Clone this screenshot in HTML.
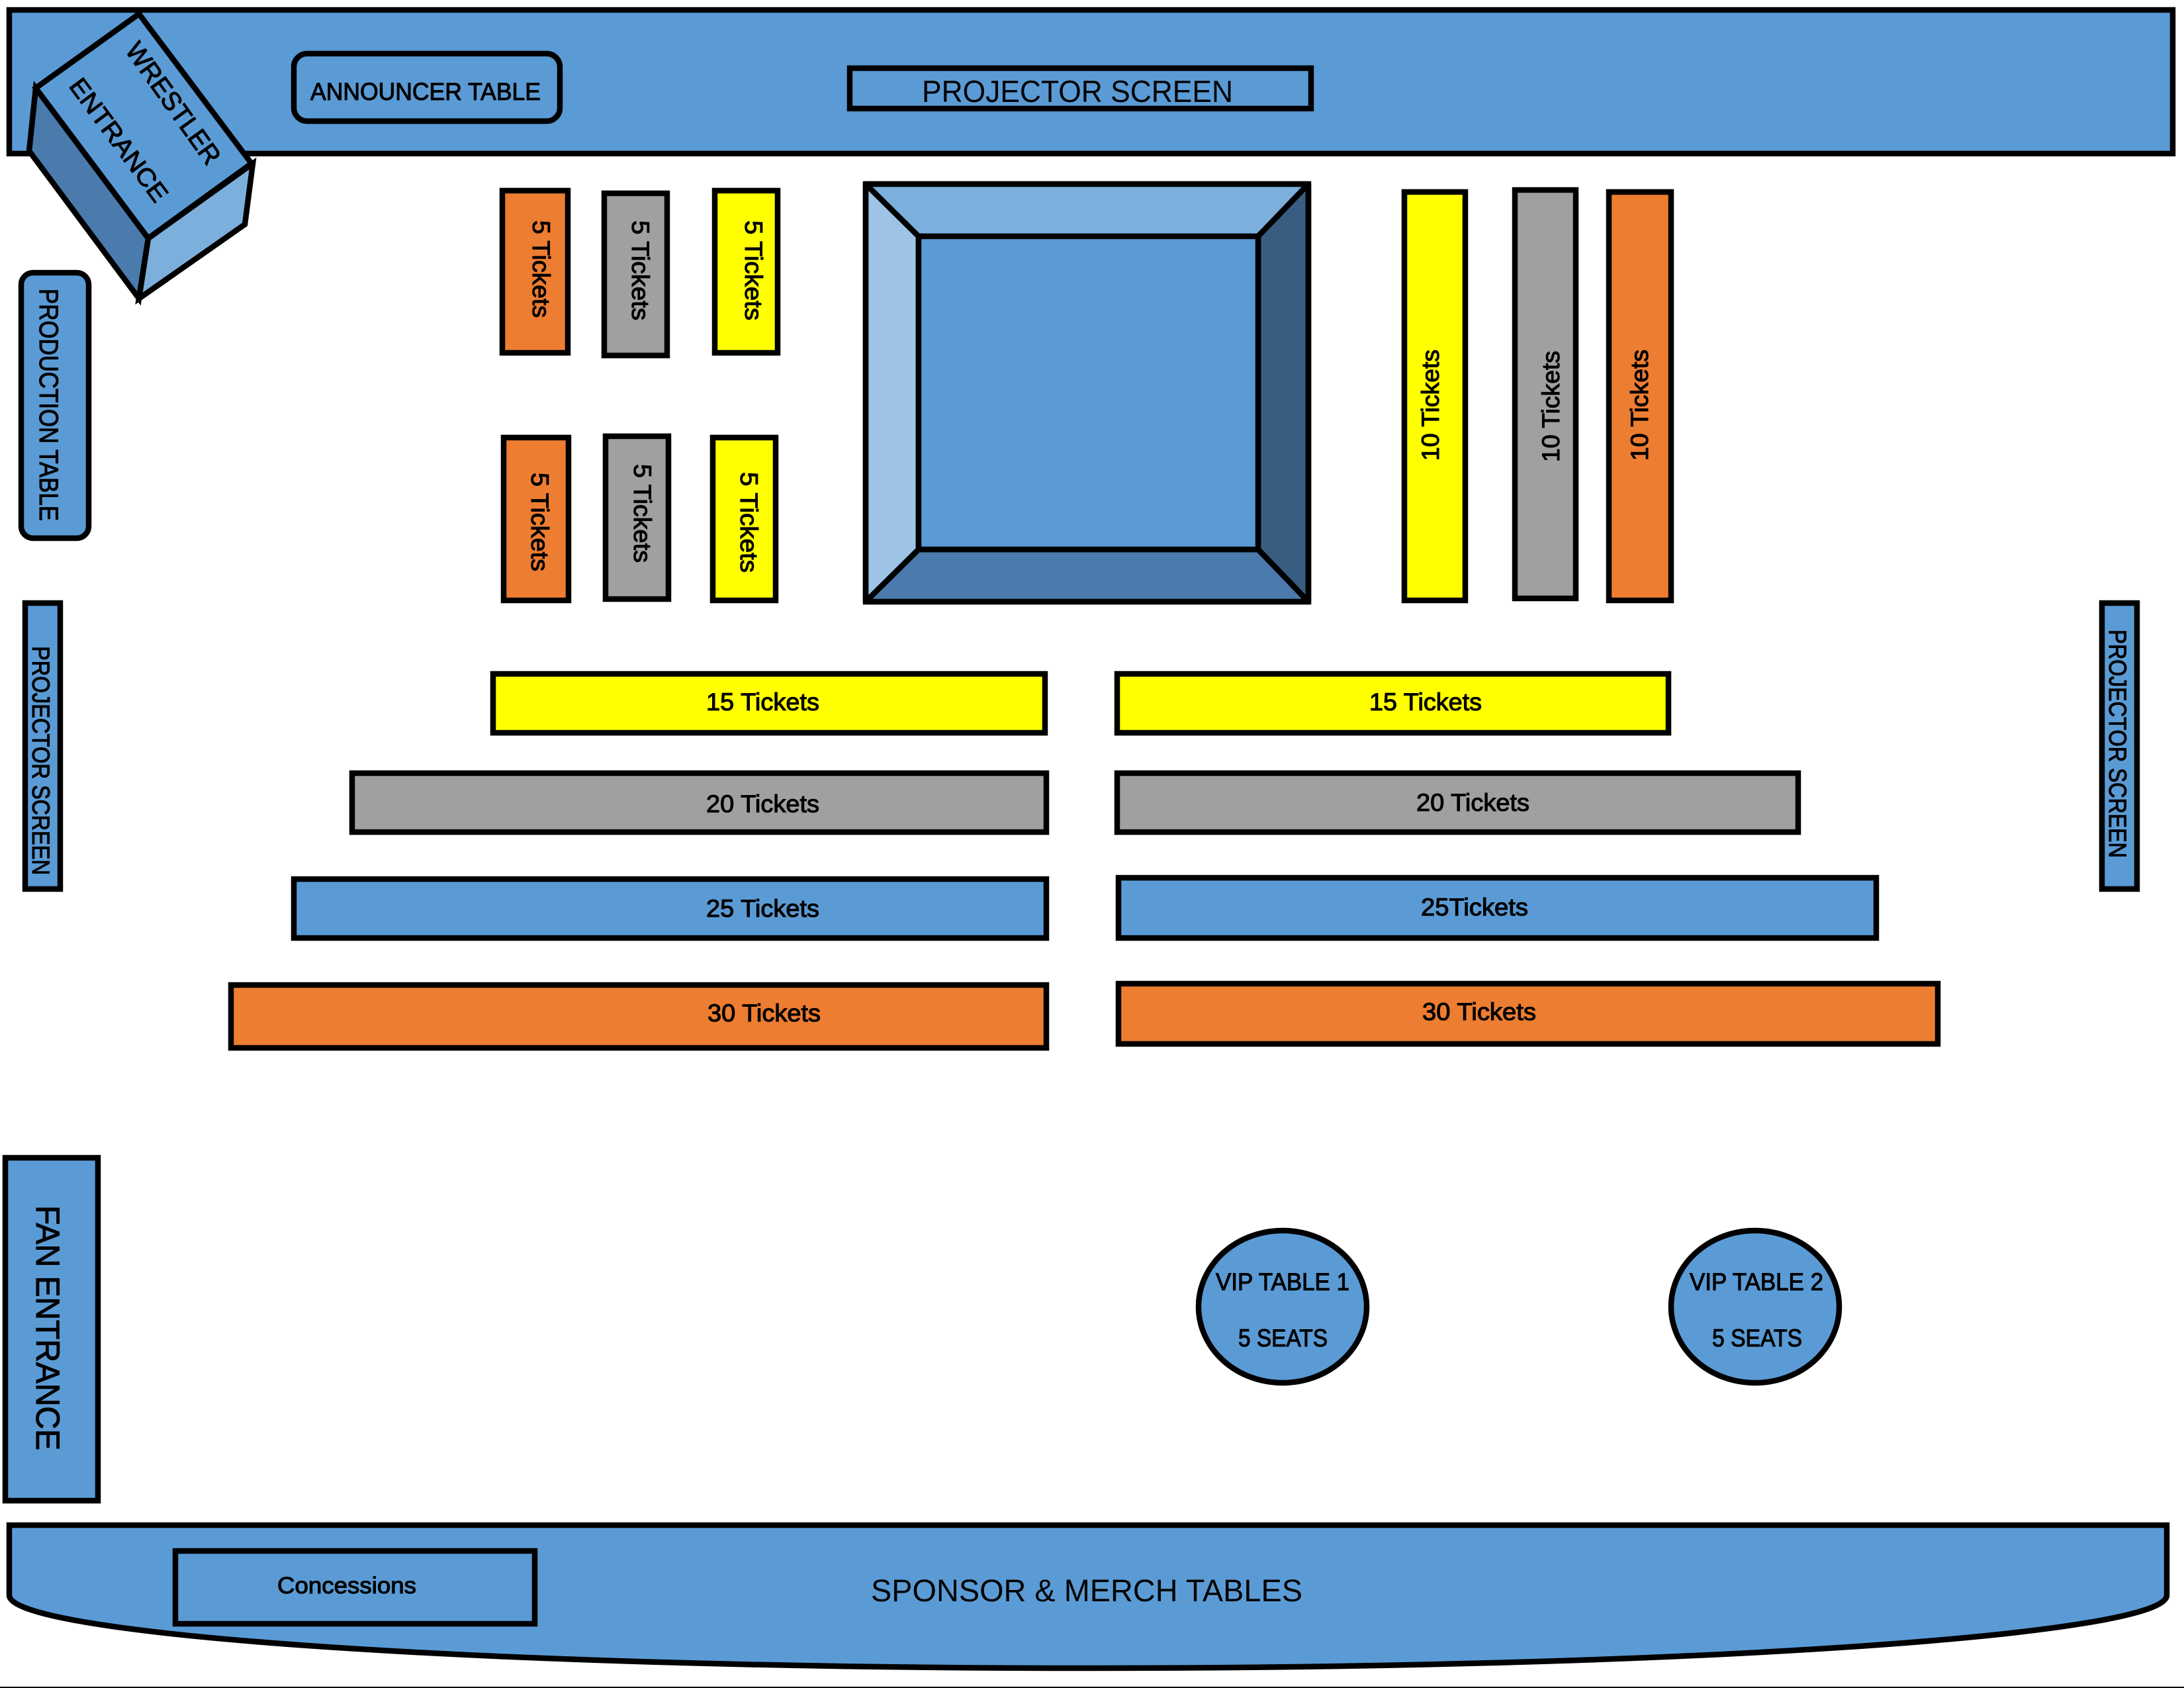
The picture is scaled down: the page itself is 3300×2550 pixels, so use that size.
<!DOCTYPE html>
<html><head><meta charset="utf-8"><style>
html,body{margin:0;padding:0;background:#fff}
svg{display:block}
text{font-family:"Liberation Sans",sans-serif;fill:#000}
.m{stroke:#000;stroke-width:1.1px}
</style></head><body>
<svg width="3300" height="2550" viewBox="0 0 3300 2550" xmlns="http://www.w3.org/2000/svg">
<rect width="3300" height="2550" fill="#fff"/>
<g stroke="#000" stroke-width="8.5" fill="#5B9BD5" stroke-linejoin="miter">
<rect x="14" y="15" width="3269" height="217"/>
<rect x="444" y="81" width="402" height="102" rx="20"/>
<rect x="1284" y="103" width="697" height="61"/>
<rect x="32" y="412" width="102" height="401" rx="18"/>
<rect x="38" y="911" width="53" height="432"/>
<rect x="3176" y="911" width="53" height="432"/>
<rect x="8" y="1749" width="140" height="518"/>
<!-- wrestler entrance -->
<g stroke-miterlimit="3">
<polygon points="54,133 44,228 210,451 224,360" fill="#4A7BAC"/>
<polygon points="382,247 370,339 210,451 224,360" fill="#7DAFDD"/>
<polygon points="210,21 380,247 224,360 54,133"/>
</g>
<!-- ring -->
<g stroke-linejoin="bevel">
<polygon points="1308,278 1388,357 1388,830 1308,909" fill="#9DC3E6"/>
<polygon points="1308,278 1977,278 1901,357 1388,357" fill="#7DAFDD"/>
<polygon points="1977,278 1977,909 1901,830 1901,357" fill="#385D80"/>
<polygon points="1308,909 1388,830 1901,830 1977,909" fill="#4A7BAC"/>
</g>
<rect x="1388" y="357" width="513" height="473"/>
<rect x="1308" y="278" width="669" height="631" fill="none" stroke-linejoin="miter"/>
<!-- small blocks -->
<rect x="759" y="288" width="99" height="245" fill="#ED7D31"/>
<rect x="913" y="292" width="95" height="245" fill="#A0A0A0"/>
<rect x="1080" y="288" width="95" height="245" fill="#FFFF00"/>
<rect x="761" y="661" width="98" height="246" fill="#ED7D31"/>
<rect x="915" y="659" width="95" height="246" fill="#A0A0A0"/>
<rect x="1077" y="661" width="95" height="246" fill="#FFFF00"/>
<!-- tall blocks -->
<rect x="2122" y="290" width="92" height="617" fill="#FFFF00"/>
<rect x="2289" y="287" width="92" height="617" fill="#A0A0A0"/>
<rect x="2431" y="290" width="94" height="617" fill="#ED7D31"/>
<!-- bars -->
<rect x="745" y="1018" width="834" height="89" fill="#FFFF00"/>
<rect x="1688" y="1018" width="833" height="89" fill="#FFFF00"/>
<rect x="532" y="1168" width="1049" height="89" fill="#A0A0A0"/>
<rect x="1688" y="1168" width="1029" height="89" fill="#A0A0A0"/>
<rect x="444" y="1328" width="1137" height="89"/>
<rect x="1690" y="1326" width="1145" height="91"/>
<rect x="349" y="1488" width="1232" height="95" fill="#ED7D31"/>
<rect x="1690" y="1486" width="1238" height="91" fill="#ED7D31"/>
<ellipse cx="1938" cy="1974" rx="127" ry="115"/>
<ellipse cx="2652" cy="1974" rx="127" ry="115"/>
<!-- bottom band -->
<path d="M14,2304 H3274 V2410 A1630,110 0 0 1 14,2410 Z"/>
<rect x="265" y="2343" width="543" height="110"/>
</g>
<rect x="0" y="2548" width="3300" height="2" fill="#000"/>

<g font-size="37">
<text class="m" x="469" y="151" textLength="348" lengthAdjust="spacingAndGlyphs">ANNOUNCER TABLE</text>
<text class="m" x="1067" y="1073" textLength="171" lengthAdjust="spacingAndGlyphs">15 Tickets</text>
<text class="m" x="2069" y="1073" textLength="170" lengthAdjust="spacingAndGlyphs">15 Tickets</text>
<text class="m" x="1067" y="1227" textLength="171" lengthAdjust="spacingAndGlyphs">20 Tickets</text>
<text class="m" x="2140" y="1225" textLength="171" lengthAdjust="spacingAndGlyphs">20 Tickets</text>
<text class="m" x="1067" y="1385" textLength="171" lengthAdjust="spacingAndGlyphs">25 Tickets</text>
<text class="m" x="2147" y="1383" textLength="162" lengthAdjust="spacingAndGlyphs">25Tickets</text>
<text class="m" x="1069" y="1543" textLength="171" lengthAdjust="spacingAndGlyphs">30 Tickets</text>
<text class="m" x="2149" y="1541" textLength="172" lengthAdjust="spacingAndGlyphs">30 Tickets</text>
<text class="m" x="1837" y="1949" textLength="202" lengthAdjust="spacingAndGlyphs">VIP TABLE 1</text>
<text class="m" x="1871" y="2034" textLength="135" lengthAdjust="spacingAndGlyphs">5 SEATS</text>
<text class="m" x="2553" y="1949" textLength="202" lengthAdjust="spacingAndGlyphs">VIP TABLE 2</text>
<text class="m" x="2587" y="2034" textLength="136" lengthAdjust="spacingAndGlyphs">5 SEATS</text>
<text class="m" x="419" y="2407" textLength="210" lengthAdjust="spacingAndGlyphs" font-size="35">Concessions</text>

<text class="m" transform="translate(805,333) rotate(90)" textLength="147" lengthAdjust="spacingAndGlyphs">5 Tickets</text>
<text class="m" transform="translate(955,333) rotate(90)" textLength="151" lengthAdjust="spacingAndGlyphs">5 Tickets</text>
<text class="m" transform="translate(1126,333) rotate(90)" textLength="151" lengthAdjust="spacingAndGlyphs">5 Tickets</text>
<text class="m" transform="translate(803,714) rotate(90)" textLength="149" lengthAdjust="spacingAndGlyphs">5 Tickets</text>
<text class="m" transform="translate(958,701) rotate(90)" textLength="149" lengthAdjust="spacingAndGlyphs">5 Tickets</text>
<text class="m" transform="translate(1119,713) rotate(90)" textLength="152" lengthAdjust="spacingAndGlyphs">5 Tickets</text>

<text class="m" transform="translate(2174,696) rotate(-90)" textLength="168" lengthAdjust="spacingAndGlyphs">10 Tickets</text>
<text class="m" transform="translate(2356,698) rotate(-90)" textLength="168" lengthAdjust="spacingAndGlyphs">10 Tickets</text>
<text class="m" transform="translate(2490,696) rotate(-90)" textLength="168" lengthAdjust="spacingAndGlyphs">10 Tickets</text>

<text transform="translate(60,436) rotate(90)" textLength="351" lengthAdjust="spacingAndGlyphs" font-size="40" class="m">PRODUCTION TABLE</text>
<text class="m" transform="translate(49,976) rotate(90)" textLength="346" lengthAdjust="spacingAndGlyphs">PROJECTOR SCREEN</text>
<text class="m" transform="translate(3187,951) rotate(90)" textLength="345" lengthAdjust="spacingAndGlyphs">PROJECTOR SCREEN</text>
<text class="m" transform="translate(55,1821) rotate(90)" textLength="370" lengthAdjust="spacingAndGlyphs" font-size="50">FAN ENTRANCE</text>
<text class="m" transform="translate(188,76) rotate(54.5)" textLength="216" lengthAdjust="spacingAndGlyphs" font-size="40">WRESTLER</text>
<text class="m" transform="translate(103,130) rotate(53.5)" textLength="222" lengthAdjust="spacingAndGlyphs" font-size="38">ENTRANCE</text>
</g>
<text x="1393" y="154" font-size="46" textLength="470" lengthAdjust="spacingAndGlyphs">PROJECTOR SCREEN</text>
<text x="1316" y="2419" font-size="47" textLength="652" lengthAdjust="spacingAndGlyphs">SPONSOR &amp; MERCH TABLES</text>
</svg>
</body></html>
